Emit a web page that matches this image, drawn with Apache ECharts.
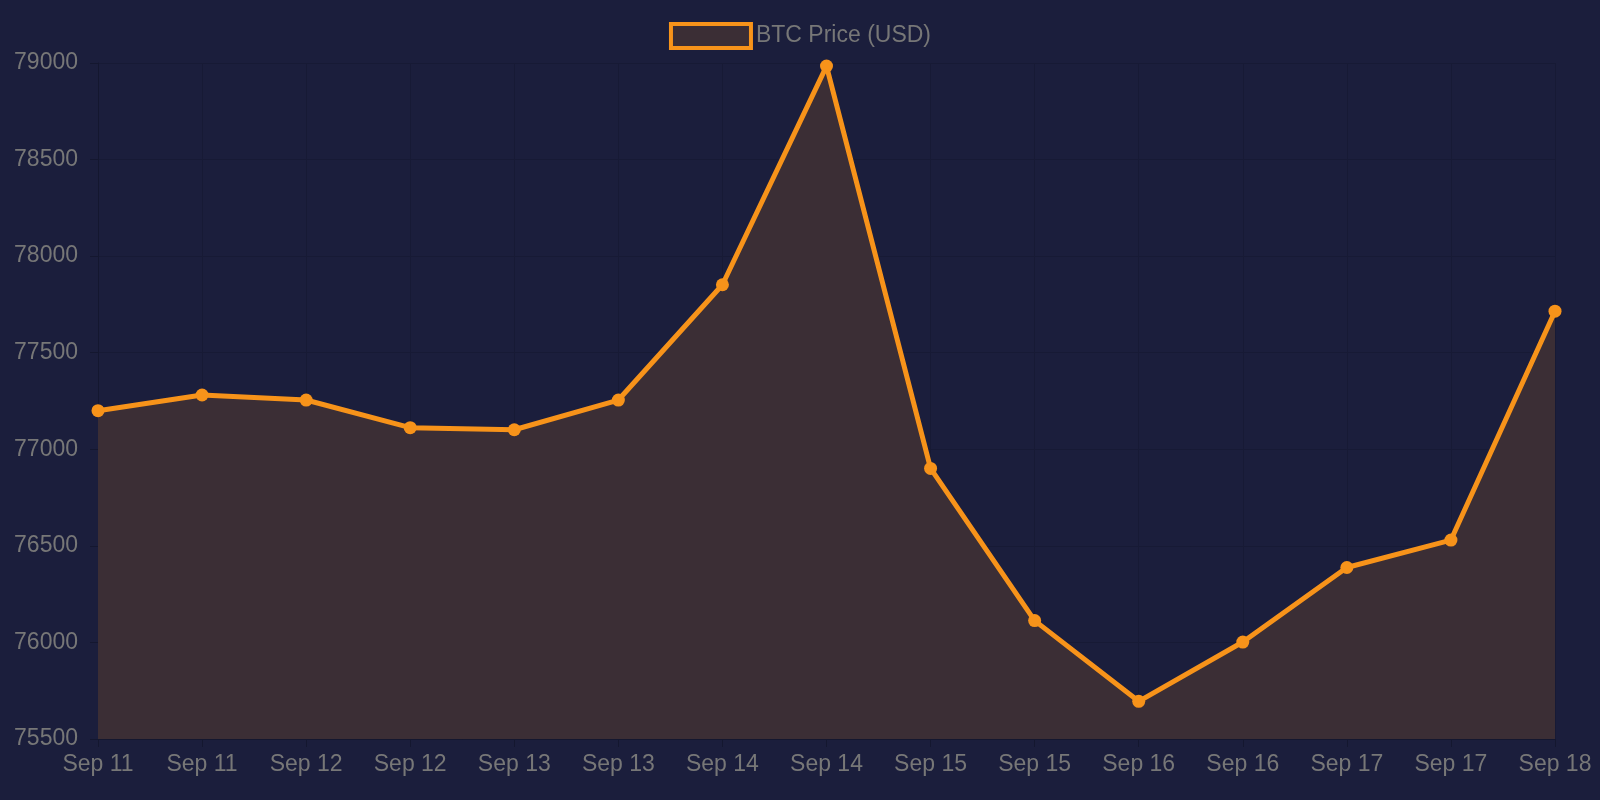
<!DOCTYPE html>
<html><head><meta charset="utf-8">
<script src="https://cdn.jsdelivr.net/npm/echarts@6/dist/echarts.min.js"></script>
<style>html,body{margin:0;padding:0;background:#1b1e3c;}#c{width:1600px;height:800px;}</style>
</head><body><div id="c"></div>
<script>
const categories = ["Sep 11","Sep 11","Sep 12","Sep 12","Sep 13","Sep 13","Sep 14","Sep 14","Sep 15","Sep 15","Sep 16","Sep 16","Sep 17","Sep 17","Sep 18"];
const btcPrice = [77200,77281,77255,77112,77101,77255,77852,78984,76901,76113,75695,76002,76388,76530,77715];
const seriesName = "BTC Price (USD)";
const chart = echarts.init(document.getElementById('c'));
chart.setOption({
  backgroundColor:'#1b1e3c',
  animation:false,
  legend:{top:17,left:'center',itemWidth:80,itemHeight:24,itemGap:10,
    textStyle:{color:'#777',fontSize:23,fontFamily:'Liberation Sans'},
    data:[{name:seriesName,icon:'rect',itemStyle:{color:'#3b2e35',borderColor:'#f7931a',borderWidth:4}}]},
  grid:{left:98,right:45,top:63,bottom:61},
  xAxis:{type:'category',data:categories,boundaryGap:false,
    axisLine:{lineStyle:{color:'#14172f'}},axisTick:{show:true,length:8,lineStyle:{color:'#14172f'}},
    splitLine:{show:true,lineStyle:{color:'#171a35'}},
    axisLabel:{color:'#777',fontSize:23,fontFamily:'Liberation Sans',margin:14,interval:0}},
  yAxis:{type:'value',min:75500,max:79000,interval:500,
    axisLine:{show:true,lineStyle:{color:'#14172f'}},axisTick:{show:true,length:8,lineStyle:{color:'#14172f'}},
    splitLine:{lineStyle:{color:'#171a35'}},
    axisLabel:{color:'#777',fontSize:23,fontFamily:'Liberation Sans',margin:20,formatter:v=>String(v)}},
  series:[{name:seriesName,type:'line',data:btcPrice,symbol:'circle',symbolSize:13,
    lineStyle:{color:'#f7931a',width:5},itemStyle:{color:'#f7931a'},
    areaStyle:{color:'#3b2e35',opacity:1}}]
});
</script></body></html>
